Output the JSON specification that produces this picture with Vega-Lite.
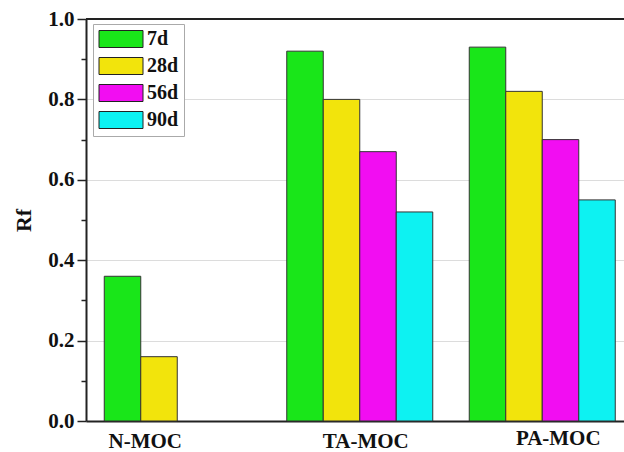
{
  "$schema": "https://vega.github.io/schema/vega-lite/v6.json",
  "width": 538,
  "height": 402,
  "autosize": {"type": "none"},
  "padding": {"left": 86, "top": 19, "right": 0, "bottom": 31},
  "background": "white",
  "config": {"view": {"stroke": null}},
  "data": {
    "values": [
      {"group": "N-MOC", "age": "7d", "Rf": 0.36},
      {"group": "N-MOC", "age": "28d", "Rf": 0.16},
      {"group": "TA-MOC", "age": "7d", "Rf": 0.92},
      {"group": "TA-MOC", "age": "28d", "Rf": 0.80},
      {"group": "TA-MOC", "age": "56d", "Rf": 0.67},
      {"group": "TA-MOC", "age": "90d", "Rf": 0.52},
      {"group": "PA-MOC", "age": "7d", "Rf": 0.93},
      {"group": "PA-MOC", "age": "28d", "Rf": 0.82},
      {"group": "PA-MOC", "age": "56d", "Rf": 0.70},
      {"group": "PA-MOC", "age": "90d", "Rf": 0.55}
    ]
  },
  "layer": [
    {
      "mark": {"type": "bar", "stroke": "#333333", "strokeWidth": 1},
      "encoding": {
        "x": {
          "field": "group",
          "type": "nominal",
          "sort": ["N-MOC", "TA-MOC", "PA-MOC"],
          "scale": {"range": [0, 547.5], "paddingInner": 0.2, "paddingOuter": 0.1},
          "axis": {
            "title": null,
            "labelAngle": 0,
            "labelFont": "Liberation Serif",
            "labelFontWeight": "bold",
            "labelFontSize": 21,
            "labelColor": "#111111",
            "ticks": false,
            "domainColor": "#222222",
            "domainWidth": 2,
            "labelOffset": {"condition": [{"test": "datum.value === 'N-MOC'", "value": -32}, {"test": "datum.value === 'PA-MOC'", "value": 16}], "value": 6},
            "labelPadding": {"condition": {"test": "datum.value === 'PA-MOC'", "value": 6}, "value": 9}
          }
        },
        "xOffset": {
          "field": "age",
          "type": "nominal",
          "sort": ["7d", "28d", "56d", "90d"],
          "scale": {"domain": ["7d", "28d", "56d", "90d"]}
        },
        "y": {
          "field": "Rf",
          "type": "quantitative",
          "scale": {"domain": [0, 1], "nice": false},
          "axis": {
            "title": "Rf",
            "titleFont": "Liberation Serif",
            "titleFontWeight": "bold",
            "titleFontSize": 22,
            "titleColor": "#111111",
            "titlePadding": 12,
            "values": [0, 0.1, 0.2, 0.3, 0.4, 0.5, 0.6, 0.7, 0.8, 0.9, 1.0],
            "labelExpr": "round(datum.value*10) % 2 === 0 ? format(datum.value, '.1f') : ''",
            "labelFont": "Liberation Serif",
            "labelFontWeight": "bold",
            "labelFontSize": 21,
            "labelColor": "#111111",
            "labelPadding": 3,
            "tickColor": "#222222",
            "tickWidth": 1.5,
            "tickSize": {"condition": {"test": "round(datum.value*10) % 2 === 0", "value": 9}, "value": 5},
            "domainColor": "#222222",
            "domainWidth": 2,
            "grid": true,
            "gridColor": "#dcdcdc",
            "gridWidth": 1,
            "gridOpacity": {"condition": {"test": "round(datum.value*10) % 2 === 0", "value": 1}, "value": 0}
          }
        },
        "color": {
          "field": "age",
          "type": "nominal",
          "sort": ["7d", "28d", "56d", "90d"],
          "scale": {"domain": ["7d", "28d", "56d", "90d"], "range": ["#19e619", "#f2e40c", "#f20df2", "#0df2f2"]},
          "legend": {
            "title": null,
            "orient": "none",
            "legendX": 7,
            "legendY": 5,
            "symbolType": "M-1.8,-1.7H7V1.7H-1.8Z",
            "symbolSize": 100,
            "symbolStrokeColor": "#222222",
            "symbolStrokeWidth": 1,
            "symbolOpacity": 1,
            "labelFont": "Liberation Serif",
            "labelFontWeight": "bold",
            "labelFontSize": 20,
            "labelColor": "#111111",
            "labelOffset": 29,
            "strokeColor": "#aaaaaa",
            "fillColor": "white",
            "padding": 5,
            "rowPadding": 5
          }
        }
      }
    },
    {
      "mark": {"type": "rule", "color": "#222222", "strokeWidth": 2},
      "encoding": {"y": {"datum": 1}}
    }
  ]
}
